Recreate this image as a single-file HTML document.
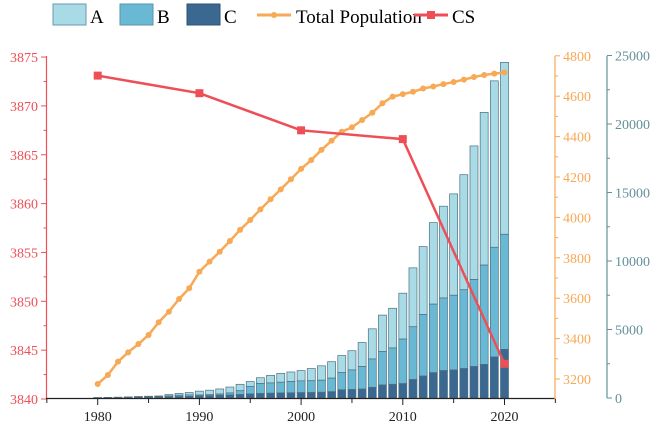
<!DOCTYPE html>
<html><head><meta charset="utf-8"><style>
html,body{margin:0;padding:0;background:#fff;}
svg{display:block;font-family:"Liberation Serif",serif;}
</style></head><body>
<svg id="chart" width="661" height="427" xmlns="http://www.w3.org/2000/svg">
<g id="legend" font-size="19">
<g><rect x="53" y="4" width="33" height="21" fill="#a9dbe6" stroke="#6a9aae"/><text x="90" y="23">A</text></g>
<g><rect x="120" y="4" width="33" height="21" fill="#6ab9d4" stroke="#5a93ad"/><text x="157" y="23">B</text></g>
<g><rect x="187" y="4" width="33" height="21" fill="#3b6891" stroke="#2e5275"/><text x="224" y="23">C</text></g>
<g><line x1="257" y1="15" x2="291" y2="15" stroke="#f7a956" stroke-width="3"/><circle cx="274" cy="15" r="3" fill="#f7a956"/><text x="296" y="23">Total Population</text></g>
<g><line x1="414" y1="15" x2="448" y2="15" stroke="#ee4f57" stroke-width="3"/><rect x="427" y="11" width="8" height="8" fill="#ee4f57"/><text x="452" y="23">CS</text></g>
</g>
<g id="bars"></g>
<g id="axes"></g>
<g id="lines"></g>
</svg>
<script>
const years = [];
for (let y = 1980; y <= 2020; y++) years.push(y);
const totalBar = [30,40,60,80,110,130,150,250,330,400,500,570,660,800,1000,1200,1480,1650,1800,1900,2000,2150,2350,2650,3100,3450,4050,5050,6050,6550,7650,9500,11050,12800,14000,14900,16300,18400,20850,23150,24500];
const bcTop = [20,30,40,50,70,90,100,150,200,230,220,240,290,370,530,850,1050,1100,1150,1200,1250,1260,1300,1450,1850,2050,2300,2850,3400,3650,4300,5200,6100,6850,7300,7500,7900,8650,9700,11000,11950];
const cTop = [10,15,20,30,40,50,60,80,100,120,150,170,200,230,260,300,330,350,370,380,390,400,420,460,600,620,650,780,950,1000,1050,1350,1600,1850,2000,2050,2150,2300,2450,3000,3550];
const popYears = years;
const population = [3175,3220,3286,3332,3373,3418,3481,3533,3596,3649,3731,3781,3830,3883,3938,3987,4040,4090,4139,4189,4240,4284,4334,4380,4424,4446,4482,4518,4565,4598,4610,4622,4638,4648,4660,4670,4682,4695,4705,4712,4718];
const csYears = [1980,1990,2000,2010,2020];
const csValues = [3873.1,3871.3,3867.5,3866.6,3843.6];
const leftTicks = [3840,3845,3850,3855,3860,3865,3870,3875];
const popTicks = [3200,3400,3600,3800,4000,4200,4400,4600,4800];
const barTicks = [0,5000,10000,15000,20000,25000];
const xTicks = [1980,1990,2000,2010,2020];

const NS = "http://www.w3.org/2000/svg";
const X = yr => 97.7 + (yr - 1980) * 10.17;
const YL = v => 399 - (v - 3840) * 9.77;
const YP = v => 379 - (v - 3200) * 0.202;
const YB = v => 398 - v * 0.0137;
function mk(parent, tag, attrs, txt) {
  const e = document.createElementNS(NS, tag);
  for (const k in attrs) e.setAttribute(k, attrs[k]);
  if (txt !== undefined) e.textContent = txt;
  parent.appendChild(e);
  return e;
}
const bars = document.getElementById('bars');
years.forEach((yr, i) => {
  const x = X(yr) - 4;
  const segs = [[totalBar[i], bcTop[i], '#a9dbe6', 'a'], [bcTop[i], cTop[i], '#6ab9d4', 'b'], [cTop[i], 0, '#3b6891', 'c']];
  segs.forEach(s => {
    const r = mk(bars, 'rect', {x: x, y: YB(s[0]), width: 8, height: Math.max(0, YB(s[1]) - YB(s[0])), fill: s[2], stroke: '#4d6f82', 'stroke-width': 0.7});
    
    
  });
});
const axes = document.getElementById('axes');
// left axis
let a = mk(axes, 'line', {x1: 46.5, y1: 56, x2: 46.5, y2: 399, stroke: '#ee4f57', 'stroke-width': 1.2});


leftTicks.forEach((t, i) => {
  mk(axes, 'line', {x1: 41, x2: 46.5, y1: YL(t), y2: YL(t), stroke: '#ee4f57'});
  if (i < leftTicks.length - 1) mk(axes, 'line', {x1: 43.5, x2: 46.5, y1: YL(t + 2.5), y2: YL(t + 2.5), stroke: '#ee4f57'});
  const l = mk(axes, 'text', {x: 38, y: YL(t) + 5, 'text-anchor': 'end', 'font-size': 14, fill: '#ee4f57'}, t);
  
  
});
// bottom axis
a = mk(axes, 'line', {x1: 46, y1: 398.5, x2: 555, y2: 398.5, stroke: '#222', 'stroke-width': 1.3});


for (let yr = 1975; yr <= 2025; yr += 5) {
  mk(axes, 'line', {x1: X(yr), x2: X(yr), y1: 398.5, y2: yr % 10 === 0 ? 405 : 403, stroke: '#222'});
}
xTicks.forEach(t => {
  const l = mk(axes, 'text', {x: X(t), y: 421, 'text-anchor': 'middle', 'font-size': 14, fill: '#222'}, t);
  
  
});
// orange axis
a = mk(axes, 'line', {x1: 555, y1: 56, x2: 555, y2: 399, stroke: '#f7a956', 'stroke-width': 1.2});


popTicks.forEach((t, i) => {
  mk(axes, 'line', {x1: 555, x2: 560, y1: YP(t), y2: YP(t), stroke: '#f7a956'});
  if (i < popTicks.length - 1) mk(axes, 'line', {x1: 555, x2: 558, y1: YP(t + 100), y2: YP(t + 100), stroke: '#f7a956'});
  const l = mk(axes, 'text', {x: 563, y: YP(t) + 5, 'font-size': 14, fill: '#f7a956'}, t);
  
  
});
// teal axis
a = mk(axes, 'line', {x1: 607, y1: 56, x2: 607, y2: 398, stroke: '#62919a', 'stroke-width': 1.2});


barTicks.forEach((t, i) => {
  mk(axes, 'line', {x1: 607, x2: 612, y1: YB(t), y2: YB(t), stroke: '#62919a'});
  if (i < barTicks.length - 1) mk(axes, 'line', {x1: 607, x2: 610, y1: YB(t + 2500), y2: YB(t + 2500), stroke: '#62919a'});
  const l = mk(axes, 'text', {x: 615, y: YB(t) + 5, 'font-size': 14, fill: '#62919a'}, t);
  
  
});
const lines = document.getElementById('lines');
let p = mk(lines, 'polyline', {points: popYears.map((yr, i) => X(yr) + ',' + YP(population[i])).join(' '), fill: 'none', stroke: '#f7a956', 'stroke-width': 2.5});


popYears.forEach((yr, i) => {
  const c = mk(lines, 'circle', {cx: X(yr), cy: YP(population[i]), r: 3, fill: '#f7a956'});
  
  
});
p = mk(lines, 'polyline', {points: csYears.map((yr, i) => X(yr) + ',' + YL(csValues[i])).join(' '), fill: 'none', stroke: '#ee4f57', 'stroke-width': 2.5});


csYears.forEach((yr, i) => {
  const r = mk(lines, 'rect', {x: X(yr) - 4, y: YL(csValues[i]) - 4, width: 8, height: 8, fill: '#ee4f57'});
  
  
});
</script>
</body></html>
